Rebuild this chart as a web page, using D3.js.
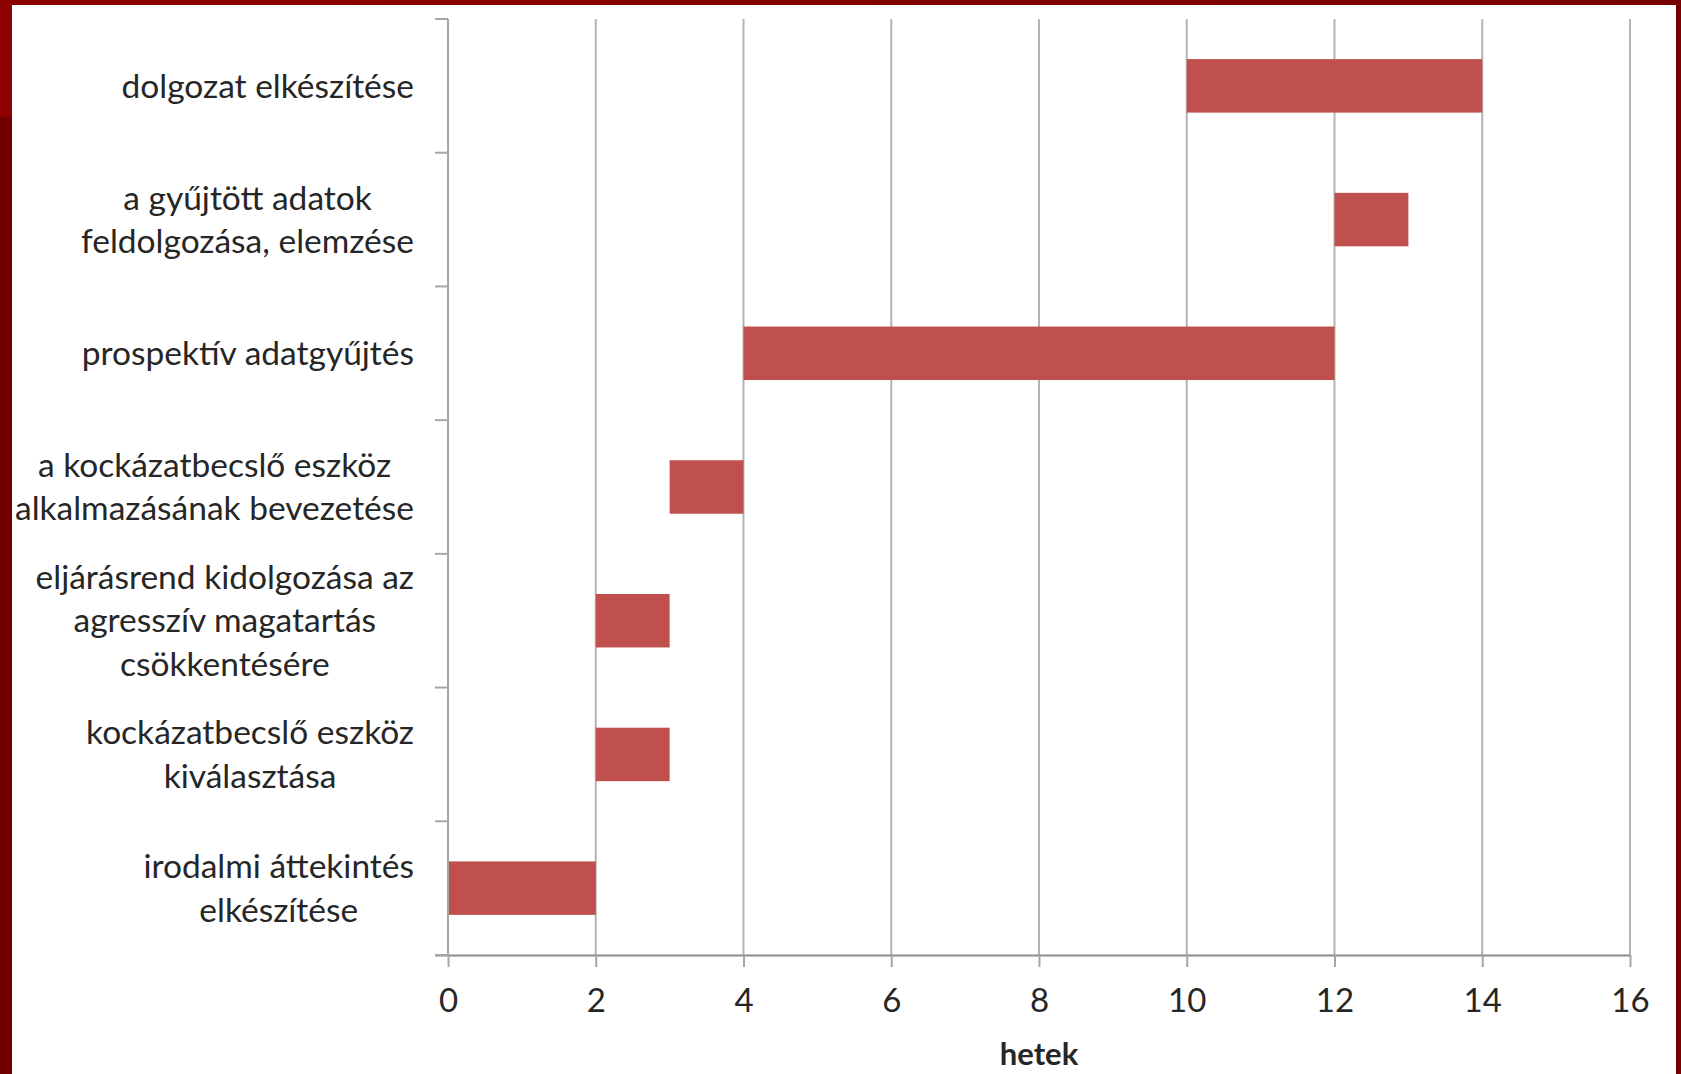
<!DOCTYPE html>
<html>
<head>
<meta charset="utf-8">
<script src="https://cdn.jsdelivr.net/npm/d3@7"></script>
<style>
  html, body { margin: 0; padding: 0; background: #7a0000; }
  svg { display: block; }
  text { font-family: Lato, "Open Sans", sans-serif; fill: #262626; }
</style>
</head>
<body>
<svg id="chart" width="1681" height="1074"></svg>
<script>
// Tasks, listed top to bottom; line breaks mark where the label wraps
const tasks = [
  "dolgozat elkészítése",
  "a gyűjtött adatok\nfeldolgozása, elemzése",
  "prospektív adatgyűjtés",
  "a kockázatbecslő eszköz\nalkalmazásának bevezetése",
  "eljárásrend kidolgozása az\nagresszív magatartás\ncsökkentésére",
  "kockázatbecslő eszköz\nkiválasztása",
  "irodalmi áttekintés\nelkészítése"
];
// Start week of each task and how many weeks it lasts
const startWeek = [10, 12, 4, 3, 2, 2, 0];
const durationWeeks = [4, 1, 8, 1, 1, 1, 2];
const weekTicks = [0, 2, 4, 6, 8, 10, 12, 14, 16];
const axisTitle = "hetek";

const W = 1681, H = 1074;
const svg = d3.select("#chart");

// Slide frame: dark red border around a white page
const defs = svg.append("defs");
const grad = defs.append("linearGradient").attr("id", "frameTop")
  .attr("x1", "0").attr("x2", "1").attr("y1", "0").attr("y2", "0");
grad.append("stop").attr("offset", "0").attr("stop-color", "#8c0000");
grad.append("stop").attr("offset", "1").attr("stop-color", "#760000");
svg.append("rect").attr("width", W).attr("height", H).attr("fill", "#720000");
svg.append("rect").attr("width", W).attr("height", 117).attr("fill", "url(#frameTop)");
svg.append("rect").attr("x", 12).attr("y", 5).attr("width", 1676 - 12).attr("height", H - 5).attr("fill", "#ffffff");

const plot = { left: 448, right: 1630, top: 19, bottom: 955 };

const x = d3.scaleLinear().domain([0, 16]).range([plot.left, plot.right]);
const y = d3.scaleBand().domain(tasks).range([plot.top, plot.bottom]).paddingInner(0.6).paddingOuter(0.3);
const yBand = d3.scaleBand().domain(tasks).range([plot.top, plot.bottom]);

// Vertical gridlines
svg.append("g").selectAll("line")
  .data(weekTicks.filter(d => d > 0))
  .join("line")
  .attr("x1", d => x(d)).attr("x2", d => x(d))
  .attr("y1", plot.top).attr("y2", plot.bottom)
  .attr("stroke", "#b3b3b3").attr("stroke-width", 2);

// Bars: offset by the start week, length by the duration
svg.append("g").selectAll("rect")
  .data(tasks.map((t, i) => ({ t, s: startWeek[i], d: durationWeeks[i] })))
  .join("rect")
  .attr("x", d => x(d.s))
  .attr("y", d => y(d.t))
  .attr("width", d => x(d.s + d.d) - x(d.s))
  .attr("height", y.bandwidth())
  .attr("fill", "#c0504d");

// X axis
const xAxis = d3.axisBottom(x).tickValues(weekTicks).tickSizeInner(12).tickSizeOuter(0).tickPadding(22);
const gx = svg.append("g").attr("transform", `translate(0,${plot.bottom})`).call(xAxis);
gx.select(".domain").attr("stroke", "#8c8c8c").attr("stroke-width", 2)
  .attr("d", `M${plot.left - 13},0.5H${plot.right}`);
gx.selectAll(".tick line").attr("stroke", "#a6a6a6").attr("stroke-width", 2);
gx.selectAll(".tick text").attr("font-size", 33).attr("font-family", "Lato, sans-serif").attr("fill", "#262626");

// Y axis line with ticks at band boundaries
const gy = svg.append("g");
gy.append("line").attr("x1", plot.left).attr("x2", plot.left)
  .attr("y1", plot.top).attr("y2", plot.bottom)
  .attr("stroke", "#a6a6a6").attr("stroke-width", 2);
const boundaries = tasks.map(t => yBand(t)).concat([plot.bottom]);
gy.selectAll("line.tk").data(boundaries).join("line").attr("class", "tk")
  .attr("x1", plot.left - 13).attr("x2", plot.left)
  .attr("y1", d => d).attr("y2", d => d)
  .attr("stroke", "#a6a6a6").attr("stroke-width", 2);

// Category labels: each block right-aligned, lines centered within the block
const labelRight = 414, lineH = 43.5, fontSize = 33.5;
tasks.forEach(t => {
  const lines = t.split("\n");
  const g = svg.append("g");
  const cy = yBand(t) + yBand.bandwidth() / 2;
  const texts = lines.map((ln, i) => g.append("text")
    .attr("font-size", fontSize)
    .attr("text-anchor", "middle")
    .attr("dy", "0.35em")
    .attr("y", cy + (i - (lines.length - 1) / 2) * lineH)
    .text(ln));
  const maxW = d3.max(texts, tx => tx.node().getComputedTextLength());
  texts.forEach(tx => tx.attr("x", labelRight - maxW / 2));
});

// Axis title
svg.append("text")
  .attr("x", (plot.left + plot.right) / 2)
  .attr("y", 1065)
  .attr("text-anchor", "middle")
  .attr("font-size", 31)
  .attr("font-weight", "bold")
  .text(axisTitle);
</script>
</body>
</html>
